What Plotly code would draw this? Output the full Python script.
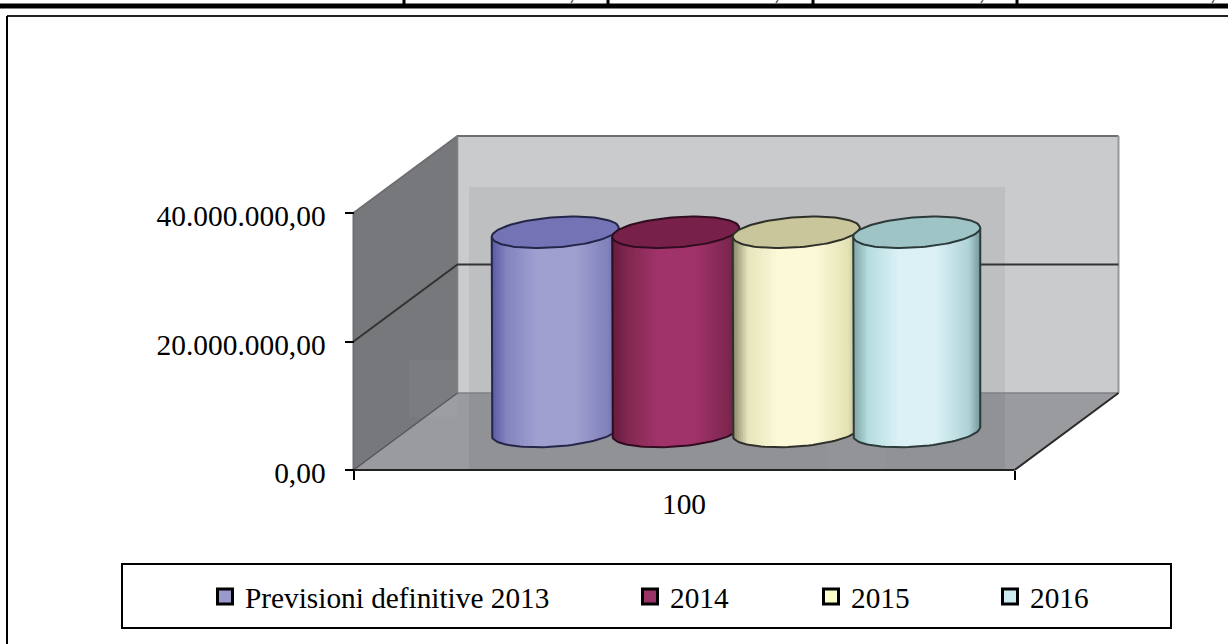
import math
import plotly.graph_objects as go

# Chart data
category_label = "100"
series_names = ["Previsioni definitive 2013", "2014", "2015", "2016"]
series_values = [31000000, 31000000, 31000000, 31000000]
value_ticks = [0, 20000000, 40000000]
value_tick_labels = ["0,00", "20.000.000,00", "40.000.000,00"]

# Per-series styling: shading across the cylinder, cap colour, outline and key colour
shades = [
    ["#5A5AA4", "#8484C0", "#A0A0D0", "#A0A0D0", "#8282BC", "#6464A8"],
    ["#661B40", "#802850", "#A0336A", "#A0336A", "#7E2750", "#661B40"],
    ["#85856A", "#E6E5BC", "#FBF9D8", "#FBF9D8", "#E4E3B4", "#A5A485"],
    ["#80A3A5", "#B6DDDF", "#DBF1F6", "#DBF1F6", "#AED3D6", "#769799"],
]
shade_stops = [0.0, 0.12, 0.36, 0.65, 0.91, 1.0]
cap_colors = ["#7373B5", "#77214A", "#C8C69A", "#9EC4C5"]
outline_colors = ["#25254A", "#300C20", "#30302A", "#2C3A3A"]
key_colors = ["#9999CC", "#993366", "#FFFFCC", "#CCECF2"]

# Page and projection geometry, in pixels
W, H = 1228, 644
X0_PX, X1_PX = 353.5, 1014.5  # front floor edge
Y0_PX, YMAX_PX = 470, 213     # value 0 and value axis maximum on the front edge
DEPTH_DX_PX, DEPTH_DY_PX = 104, 77
AXIS_MAX = value_ticks[-1]

px_x = 1 / (X1_PX - X0_PX)                # x data units per pixel
px_y = AXIS_MAX / (Y0_PX - YMAX_PX)       # y data units per pixel
DX = DEPTH_DX_PX * px_x
DY = DEPTH_DY_PX * px_y


def project(x, value, depth):
    """Oblique projection of a point in the chart box onto the axes plane."""
    return x + depth * DX, value + depth * DY


def page(xp, yp):
    """Page pixel position expressed in axis coordinates."""
    return (xp - X0_PX) * px_x, (Y0_PX - yp) * px_y


def polygon(points, fill, line=None, width=0):
    xs = [p[0] for p in points] + [points[0][0]]
    ys = [p[1] for p in points] + [points[0][1]]
    return go.Scatter(
        x=xs, y=ys, mode="lines", fill="toself", fillcolor=fill,
        line=dict(color=line or fill, width=width if line else 0),
        hoverinfo="skip", showlegend=False,
    )


def path(points, color, width):
    return go.Scatter(
        x=[p[0] for p in points], y=[p[1] for p in points], mode="lines",
        line=dict(color=color, width=width), hoverinfo="skip", showlegend=False,
    )


def rect_px(x0, y0, x1, y1, fill):
    return polygon([page(x0, y0), page(x1, y0), page(x1, y1), page(x0, y1)], fill)


def lerp_color(c1, c2, f):
    a = [int(c1[i:i + 2], 16) for i in (1, 3, 5)]
    b = [int(c2[i:i + 2], 16) for i in (1, 3, 5)]
    return "rgb({},{},{})".format(*[round(p + (q - p) * f) for p, q in zip(a, b)])


def shade_at(colors, u):
    for i in range(len(shade_stops) - 1):
        if u <= shade_stops[i + 1]:
            f = (u - shade_stops[i]) / (shade_stops[i + 1] - shade_stops[i])
            return lerp_color(colors[i], colors[i + 1], f)
    return colors[-1]


fig = go.Figure()

# Chart box: side wall, back wall and floor
fig.add_trace(polygon([project(0, 0, 0), project(0, 0, 1), project(0, AXIS_MAX, 1), project(0, AXIS_MAX, 0)], "#77787B"))
fig.add_trace(polygon([project(0, 0, 1), project(1, 0, 1), project(1, AXIS_MAX, 1), project(0, AXIS_MAX, 1)], "#CACBCD"))
fig.add_trace(polygon([project(0, 0, 0), project(1, 0, 0), project(1, 0, 1), project(0, 0, 1)], "#9A9B9E"))

# Slightly darker panel behind the cylinders and faint lighter patches
fig.add_trace(rect_px(469, 187, 1005, 470, "rgba(0,0,0,0.055)"))
fig.add_trace(rect_px(409, 360, 457, 417, "rgba(255,255,255,0.035)"))
fig.add_trace(rect_px(827, 417, 886, 470, "rgba(255,255,255,0.02)"))

# Box edges
fig.add_trace(path([project(0, 0, 0), project(0, AXIS_MAX, 0), project(0, AXIS_MAX, 1), project(1, AXIS_MAX, 1)], "#6E6F72", 2))
fig.add_trace(path([project(1, AXIS_MAX, 1), project(1, 0, 1)], "#98999C", 2))
fig.add_trace(path([project(0, AXIS_MAX, 1), project(0, 0, 1), project(1, 0, 1)], "#808184", 1.5))
fig.add_trace(path([project(0, 0, 0), project(0, 0, 1)], "#55565A", 1.5))
fig.add_trace(path([project(1, 0, 0), project(1, 0, 1)], "#2A2A2A", 2))
fig.add_trace(path([project(0, 0, 0), project(1, 0, 0)], "#222222", 2))

# Gridlines across the side and back walls
for v in value_ticks[1:-1]:
    fig.add_trace(path([project(0, v, 0), project(0, v, 1), project(1, v, 1)], "#333333", 2))

# Cylinders, drawn left to right so that each one overlaps its left neighbour
BAR_SPACING = 120.5 * px_x
RADIUS_X = 63.5 * px_x
RADIUS_Y = 15.1 * px_y
SKEW_Y = 4.5 * px_y           # the caps lean up towards the right
DEPTH_MID = 0.5
STRIPS = 63

group_mid = 0.5
for i, (value, colors) in enumerate(zip(series_values, shades)):
    x_mid = group_mid + (i - (len(series_values) - 1) / 2) * BAR_SPACING
    cx, base_y = project(x_mid, 0, DEPTH_MID)
    _, top_y = project(x_mid, value, DEPTH_MID)

    def rim(center_y, t):
        return cx + RADIUS_X * math.cos(t), center_y - RADIUS_Y * math.sin(t) + SKEW_Y * math.cos(t)

    # Shaded body, one vertical strip at a time along the front half
    for s in range(STRIPS):
        u0, u1 = s / STRIPS, min((s + 1.5) / STRIPS, 1)
        # t runs from the left rim (pi) to the right rim (0) over the front
        ta = math.acos(2 * u0 - 1)
        tb = math.acos(2 * u1 - 1)
        corners = [rim(top_y, ta), rim(top_y, tb), rim(base_y, tb), rim(base_y, ta)]
        fig.add_trace(polygon(corners, shade_at(colors, (s + 0.5) / STRIPS)))

    # Body outline and top cap
    steps = 48
    front_base = [rim(base_y, math.pi - math.pi * k / steps) for k in range(steps + 1)]
    outline = [rim(top_y, math.pi)] + front_base + [rim(top_y, 0)]
    fig.add_trace(path(outline, outline_colors[i], 2))
    cap = [rim(top_y, 2 * math.pi * k / 96) for k in range(96)]
    fig.add_trace(polygon(cap, cap_colors[i], outline_colors[i], 2))

# Legend keys; the rows sit inside the box drawn below
legend_text_x = [245, 670, 851, 1030]
legends = {}
for i, name in enumerate(series_names):
    key = "legend" if i == 0 else f"legend{i + 1}"
    fig.add_trace(go.Scatter(
        x=[None], y=[None], mode="markers", name=name, legend=key,
        marker=dict(symbol="square", size=15, color=key_colors[i], line=dict(color="black", width=3)),
        hoverinfo="skip",
    ))
    legends[key] = dict(
        x=(legend_text_x[i] - 40) / W, y=1 - 597 / H, xanchor="left", yanchor="middle",
        bgcolor="rgba(0,0,0,0)", borderwidth=0, itemsizing="trace",
        font=dict(family="Liberation Serif", size=29.3, color="black"),
    )

line_black = dict(color="black", width=2)
shapes = [
    # Legend box
    dict(type="rect", xref="paper", yref="paper", x0=122 / W, x1=1171 / W,
         y0=1 - 628 / H, y1=1 - 564 / H, line=line_black),
    # Outer frame
    dict(type="line", xref="paper", yref="paper", x0=7 / W, x1=1, y0=1 - 16 / H, y1=1 - 16 / H,
         line=dict(color="#222222", width=2)),
    dict(type="line", xref="paper", yref="paper", x0=7 / W, x1=7 / W, y0=0, y1=1 - 16 / H, line=line_black),
    # Rule closing the table row above the chart
    dict(type="line", xref="paper", yref="paper", x0=0, x1=1, y0=1 - 6 / H, y1=1 - 6 / H,
         line=dict(color="black", width=5)),
]
for xp in [404, 608, 813, 1017]:
    shapes.append(dict(type="line", xref="paper", yref="paper", x0=xp / W, x1=xp / W,
                       y0=1 - 5 / H, y1=1, line=dict(color="black", width=3)))

# Tails of the figures cut off in the table row above
for xp in [572, 777, 982, 1213]:
    shapes.append(dict(type="line", xref="paper", yref="paper", x0=(xp - 1) / W, x1=(xp + 1) / W,
                       y0=1 - 3 / H, y1=1, line=dict(color="#666666", width=1.5)))

axis_font = dict(family="Liberation Serif", size=29.4, color="black")
fig.update_layout(
    width=W, height=H, autosize=False,
    margin=dict(l=0, r=0, t=0, b=0),
    paper_bgcolor="white", plot_bgcolor="white",
    shapes=shapes,
    xaxis=dict(
        domain=[0, 1], range=[-X0_PX * px_x, (W - X0_PX) * px_x], anchor="free",
        position=1 - Y0_PX / H, showgrid=False, zeroline=False, showline=False,
        tickmode="array", tickvals=[0.5], ticktext=[category_label], ticks="",
        ticklabelstandoff=14, tickfont=axis_font,
        minor=dict(tickmode="array", tickvals=[0, 1], ticks="outside", ticklen=9,
                   tickwidth=2, tickcolor="black", showgrid=False),
    ),
    yaxis=dict(
        domain=[0, 1], range=[-(H - Y0_PX) * px_y, Y0_PX * px_y], anchor="free",
        position=X0_PX / W, showgrid=False, zeroline=False, showline=False,
        tickmode="array", tickvals=value_ticks, ticktext=value_tick_labels,
        ticks="outside", ticklen=9, tickwidth=2, tickcolor="black",
        ticklabelstandoff=13, ticklabelshift=3, tickfont=axis_font,
    ),
    **legends,
)

fig.write_html("out.html")
